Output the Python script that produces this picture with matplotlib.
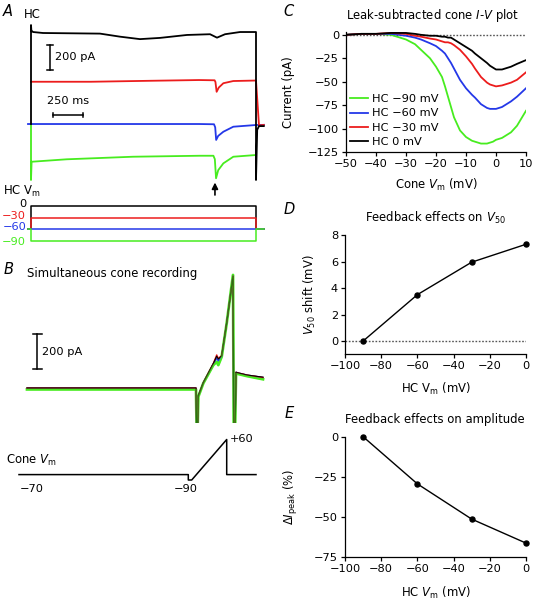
import matplotlib
matplotlib.use('Agg')
import matplotlib.pyplot as plt

plt.rcParams['font.family'] = ['DejaVu Sans']
plt.rcParams['mathtext.fontset'] = 'dejavusans'
plt.rcParams['axes.linewidth'] = 0.9
plt.rcParams['xtick.major.width'] = 0.9
plt.rcParams['ytick.major.width'] = 0.9
plt.rcParams['xtick.major.size'] = 3
plt.rcParams['ytick.major.size'] = 3

# ---------------- colours ----------------
GREEN = '#47ec1f'
BLUE = '#2438e8'
RED = '#ec1c1c'
BLACK = '#000000'

# ---------------- DATA ----------------
# Panel A: HC currents (ms, pA as displayed, traces stacked)
hcA_black_t = [0, 0, 3, 17, 100, 575, 742, 908, 1075, 1300, 1492, 1550, 1617, 1742, 1875, 1875, 1885, 1900, 1940]
hcA_black_pA = [-743, 65, 20, 8, 0, -5, -30, -50, -40, -16, -10, -38, -10, 8, 8, -1200, -790, -760, -760]
hcA_red_t = [0, 500, 1000, 1400, 1530, 1537, 1547, 1565, 1603, 1686, 1875, 1900, 1940]
hcA_red_pA = [-398, -398, -390, -384, -386, -400, -480, -445, -410, -392, -388, -755, -750]
hcA_blue_t = [-25, 1400, 1525, 1535, 1543, 1560, 1603, 1686, 1875, 1940]
hcA_blue_pA = [-743, -743, -745, -770, -873, -840, -806, -765, -751, -750]
hcA_green_t = [0, 0, 5, 297, 850, 1408, 1520, 1532, 1542, 1560, 1603, 1686, 1875]
hcA_green_pA = [-743, -1200, -1051, -1031, -1010, -1002, -1002, -1030, -1186, -1120, -1064, -1010, -996]

# Panel A: HC voltage protocol
hc_levels = [0, -30, -60, -90]
hc_level_labels = ['0', '\u221230', '\u221260', '\u221290']
hc_colors = [BLACK, RED, BLUE, GREEN]
hc_hold = -60
hc_step_start, hc_step_end = 0, 1875

# Panel B: simultaneous cone recording (ms, pA)
coneB_t = [0, 1690, 1697, 1705, 1713, 1763, 1863, 1897, 1913, 1947, 1997, 2060, 2068, 2080, 2090, 2113, 2200, 2360]
coneB_green = [-8, -8, -260, -260, -50, 27, 131, 150, 131, 179, 370, 646, -260, -260, 84, 80, 68, 50]
coneB_blue = [0, 0, -260, -260, -45, 30, 138, 170, 155, 182, 372, 640, -260, -260, 90, 86, 74, 60]
coneB_red = [0, 0, -260, -260, -45, 30, 140, 189, 170, 185, 372, 640, -260, -260, 90, 86, 74, 60]
coneB_black = [0, 0, -260, -260, -45, 30, 140, 182, 165, 184, 372, 640, -260, -260, 90, 86, 74, 62]

# Panel B: cone voltage protocol
coneV_t = [-80, 1613, 1613, 1647, 1997, 1997, 2290]
coneV_mV = [-70, -70, -90, -90, 60, -70, -70]

# Panel C: leak-subtracted I-V
iv_v = [-50, -45, -40, -35, -30, -27, -25, -22, -20, -18, -17, -16, -15, -14, -12, -10, -8, -7, -5, -3, -2, -1, 0, 2, 3, 5, 7, 10]
iv_hc90 = [0, 1, 1, 0, -5, -10, -16, -25, -34, -45, -55, -66, -77, -88, -102, -109, -113, -114, -116, -116, -115, -114, -112, -110, -108, -104, -97, -81]
iv_hc60 = [0, 1, 1, 1, -1, -3, -5, -9, -12, -17, -20, -25, -30, -36, -48, -57, -64, -67, -74, -78, -79, -79, -79, -77, -75, -71, -66, -57]
iv_hc30 = [0, 1, 1, 2, 1, -1, -2, -4, -5, -7, -8, -8, -9, -11, -16, -23, -31, -36, -45, -51, -53, -54, -55, -54, -53, -51, -48, -40]
iv_hc0 = [0, 1, 1, 2, 2, 1, 0, -1, -1, -2, -2, -3, -3, -5, -9, -13, -17, -20, -25, -30, -33, -35, -37, -37, -36, -34, -31, -27]
iv_labels = ['HC \u221290 mV', 'HC \u221260 mV', 'HC \u221230 mV', 'HC 0 mV']

# Panel D / E: feedback effects
hc_vm = [-90, -60, -30, 0]
v50_shift = [0, 3.5, 5.95, 7.3]
ipeak_change = [0, -29.5, -51.5, -66.5]

# ---------------- layout helpers ----------------
W, H = 533, 601
DPI = 100
fig = plt.figure(figsize=(W / DPI, H / DPI), dpi=DPI)


def rect(x0, y0, x1, y1):
    return [x0 / W, 1 - y1 / H, (x1 - x0) / W, (y1 - y0) / H]


def xlim_px(p0, p1, ref_px, ref_val, scale):
    return (ref_val + (p0 - ref_px) / scale, ref_val + (p1 - ref_px) / scale)


def ylim_px(p0, p1, ref_px, ref_val, scale):
    return (ref_val - (p1 - ref_px) / scale, ref_val - (p0 - ref_px) / scale)


def ftext(x, y, s, **kw):
    fig.text(x / W, 1 - y / H, s, **kw)


SMALL = 8.2
LAB = 8.4
LET = 10.5

# ---------------- Panel A traces ----------------
axA = fig.add_axes(rect(0, 20, 280, 200))
axA.set_xlim(*xlim_px(0, 280, 31, 0, 0.12))
axA.set_ylim(*ylim_px(20, 200, 33, 0, 0.1225))
axA.axis('off')
lwA = 1.3
axA.plot(hcA_green_t, hcA_green_pA, color=GREEN, lw=lwA)
axA.plot(hcA_blue_t, hcA_blue_pA, color=BLUE, lw=lwA)
axA.plot(hcA_red_t, hcA_red_pA, color=RED, lw=lwA)
axA.plot(hcA_black_t, hcA_black_pA, color=BLACK, lw=lwA)
# scale bars
axA.plot([158, 158], [-100, -300], color='k', lw=1.1)
axA.plot([130, 186], [-100, -100], color='k', lw=1.1)
axA.plot([130, 186], [-300, -300], color='k', lw=1.1)
axA.text(200, -200, '200 pA', fontsize=SMALL, ha='left', va='center')
axA.plot([183, 433], [-669, -669], color='k', lw=1.1)
axA.plot([183, 183], [-649, -689], color='k', lw=1.1)
axA.plot([433, 433], [-649, -689], color='k', lw=1.1)
axA.text(308, -557, '250 ms', fontsize=SMALL, ha='center', va='center')
axA.annotate('', xy=(1533, -1198), xytext=(1533, -1345),
             arrowprops=dict(arrowstyle='-|>', color='k', lw=1.2, mutation_scale=9),
             annotation_clip=False)

ftext(8, 12, 'A', fontsize=LET, style='italic', ha='center', va='center')
ftext(24, 14, 'HC', fontsize=LAB, ha='left', va='center')
ftext(3, 191, 'HC V$_{\\mathrm{m}}$', fontsize=LAB, ha='left', va='center')

# ---------------- Panel A protocol ----------------
axP = fig.add_axes(rect(0, 198, 280, 252))
axP.set_xlim(*xlim_px(0, 280, 31, 0, 0.12))
axP.set_ylim(*ylim_px(198, 252, 206, 0, 0.389))
axP.axis('off')
for lvl, col in zip(hc_levels, hc_colors):
    axP.plot([-25, hc_step_start, hc_step_start, hc_step_end, hc_step_end, 1940],
             [hc_hold, hc_hold, lvl, lvl, hc_hold, hc_hold], color=col, lw=1.1)
for lvl, lab, col in zip(hc_levels, hc_level_labels, hc_colors):
    axP.text(-40, lvl + (5 if lvl > -90 else -3), lab, color=col, fontsize=SMALL,
             ha='right', va='center')

# ---------------- Panel B current ----------------
axB = fig.add_axes(rect(0, 250, 280, 423))
axB.set_xlim(*xlim_px(0, 280, 27, 0, 0.1))
axB.set_ylim(*ylim_px(250, 423, 388, 0, 0.175))
axB.axis('off')
axB.plot(coneB_t, coneB_green, color=GREEN, lw=2.0)
axB.plot(coneB_t, coneB_blue, color=BLUE, lw=1.0)
axB.plot(coneB_t, coneB_red, color=RED, lw=1.0)
axB.plot(coneB_t, coneB_black, color=BLACK, lw=0.8)
axB.plot(coneB_t, coneB_green, color=GREEN, lw=1.2, alpha=0.5)
axB.plot([100, 100], [110, 310], color='k', lw=1.1)
axB.plot([55, 145], [110, 110], color='k', lw=1.1)
axB.plot([55, 145], [310, 310], color='k', lw=1.1)
axB.text(155, 206, '200 pA', fontsize=SMALL, ha='left', va='center')

ftext(9, 270, 'B', fontsize=LET, style='italic', ha='center', va='center')
ftext(27, 273, 'Simultaneous cone recording', fontsize=LAB, ha='left', va='center')

# ---------------- Panel B cone protocol ----------------
axV = fig.add_axes(rect(0, 425, 280, 500))
axV.set_xlim(*xlim_px(0, 280, 27, 0, 0.1))
axV.set_ylim(*ylim_px(425, 500, 455.7, 0, 0.27))
axV.axis('off')
axV.plot(coneV_t, coneV_mV, color='k', lw=1.1)
axV.text(2030, 60, '+60', fontsize=SMALL, ha='left', va='center')
axV.text(50, -123, '\u221270', fontsize=SMALL, ha='center', va='center')
axV.text(1585, -123, '\u221290', fontsize=SMALL, ha='center', va='center')
ftext(6, 460, 'Cone $V_{\\mathrm{m}}$', fontsize=LAB, ha='left', va='center')


def style_axes(ax):
    for s in ['top', 'right']:
        ax.spines[s].set_visible(False)
    ax.tick_params(labelsize=SMALL, direction='out', pad=2)


# ---------------- Panel C ----------------
axC = fig.add_axes(rect(346, 32, 526, 152))
axC.set_xlim(-50, 10)
axC.set_ylim(-125, 3)
style_axes(axC)
axC.plot([-50, 10], [0, 0], color='#555555', lw=1.0, ls=(0, (1.2, 1.2)))
for ys, col, lab in zip([iv_hc90, iv_hc60, iv_hc30, iv_hc0], [GREEN, BLUE, RED, BLACK], iv_labels):
    axC.plot(iv_v, ys, color=col, lw=1.3, label=lab)
axC.set_xticks(range(-50, 11, 10))
axC.set_yticks(range(0, -126, -25))
axC.set_xlabel('Cone $V_{\\mathrm{m}}$ (mV)', fontsize=LAB)
axC.set_ylabel('Current (pA)', fontsize=LAB)
axC.xaxis.set_label_coords(0.5, -0.21)
axC.yaxis.set_label_coords(-0.285, 0.5)
axC.legend(loc='upper left', bbox_to_anchor=(0.02, 0.48), frameon=False, fontsize=SMALL,
           handlelength=1.6, handletextpad=0.35, labelspacing=0.36, borderpad=0, borderaxespad=0)
ftext(289, 12, 'C', fontsize=LET, style='italic', ha='center', va='center')
ftext(433, 15, 'Leak-subtracted cone $I$-$V$ plot', fontsize=LAB, ha='center', va='center')

# ---------------- Panel D ----------------
axD = fig.add_axes(rect(345, 235, 526, 354.3))
axD.set_xlim(-100, 0)
axD.set_ylim(-1, 8)
style_axes(axD)
axD.plot([-100, 0], [0, 0], color='#555555', lw=1.0, ls=(0, (1.2, 1.2)))
axD.plot(hc_vm, v50_shift, color='k', lw=1.0, marker='o', markersize=3.6, clip_on=False)
axD.set_xticks(range(-100, 1, 20))
axD.set_yticks(range(0, 9, 2))
axD.set_xlabel('HC V$_{\\mathrm{m}}$ (mV)', fontsize=LAB)
axD.set_ylabel('$V_{50}$ shift (mV)', fontsize=LAB)
axD.xaxis.set_label_coords(0.5, -0.225)
axD.yaxis.set_label_coords(-0.15, 0.5)
ftext(289, 209, 'D', fontsize=LET, style='italic', ha='center', va='center')
ftext(435, 218, 'Feedback effects on $V_{50}$', fontsize=LAB, ha='center', va='center')

# ---------------- Panel E ----------------
axE = fig.add_axes(rect(345, 436.7, 526, 556.7))
axE.set_xlim(-100, 0)
axE.set_ylim(-75, 0)
style_axes(axE)
axE.plot(hc_vm, ipeak_change, color='k', lw=1.0, marker='o', markersize=3.6, clip_on=False)
axE.set_xticks(range(-100, 1, 20))
axE.set_yticks(range(-75, 1, 25))
axE.set_xlabel('HC $V_{\\mathrm{m}}$ (mV)', fontsize=LAB)
axE.set_ylabel('\u0394$I_{\\mathrm{peak}}$ (%)', fontsize=LAB)
axE.xaxis.set_label_coords(0.5, -0.235)
axE.yaxis.set_label_coords(-0.25, 0.5)
ftext(289, 414, 'E', fontsize=LET, style='italic', ha='center', va='center')
ftext(435, 420, 'Feedback effects on amplitude', fontsize=LAB, ha='center', va='center')

fig.savefig('out.png', dpi=DPI)
